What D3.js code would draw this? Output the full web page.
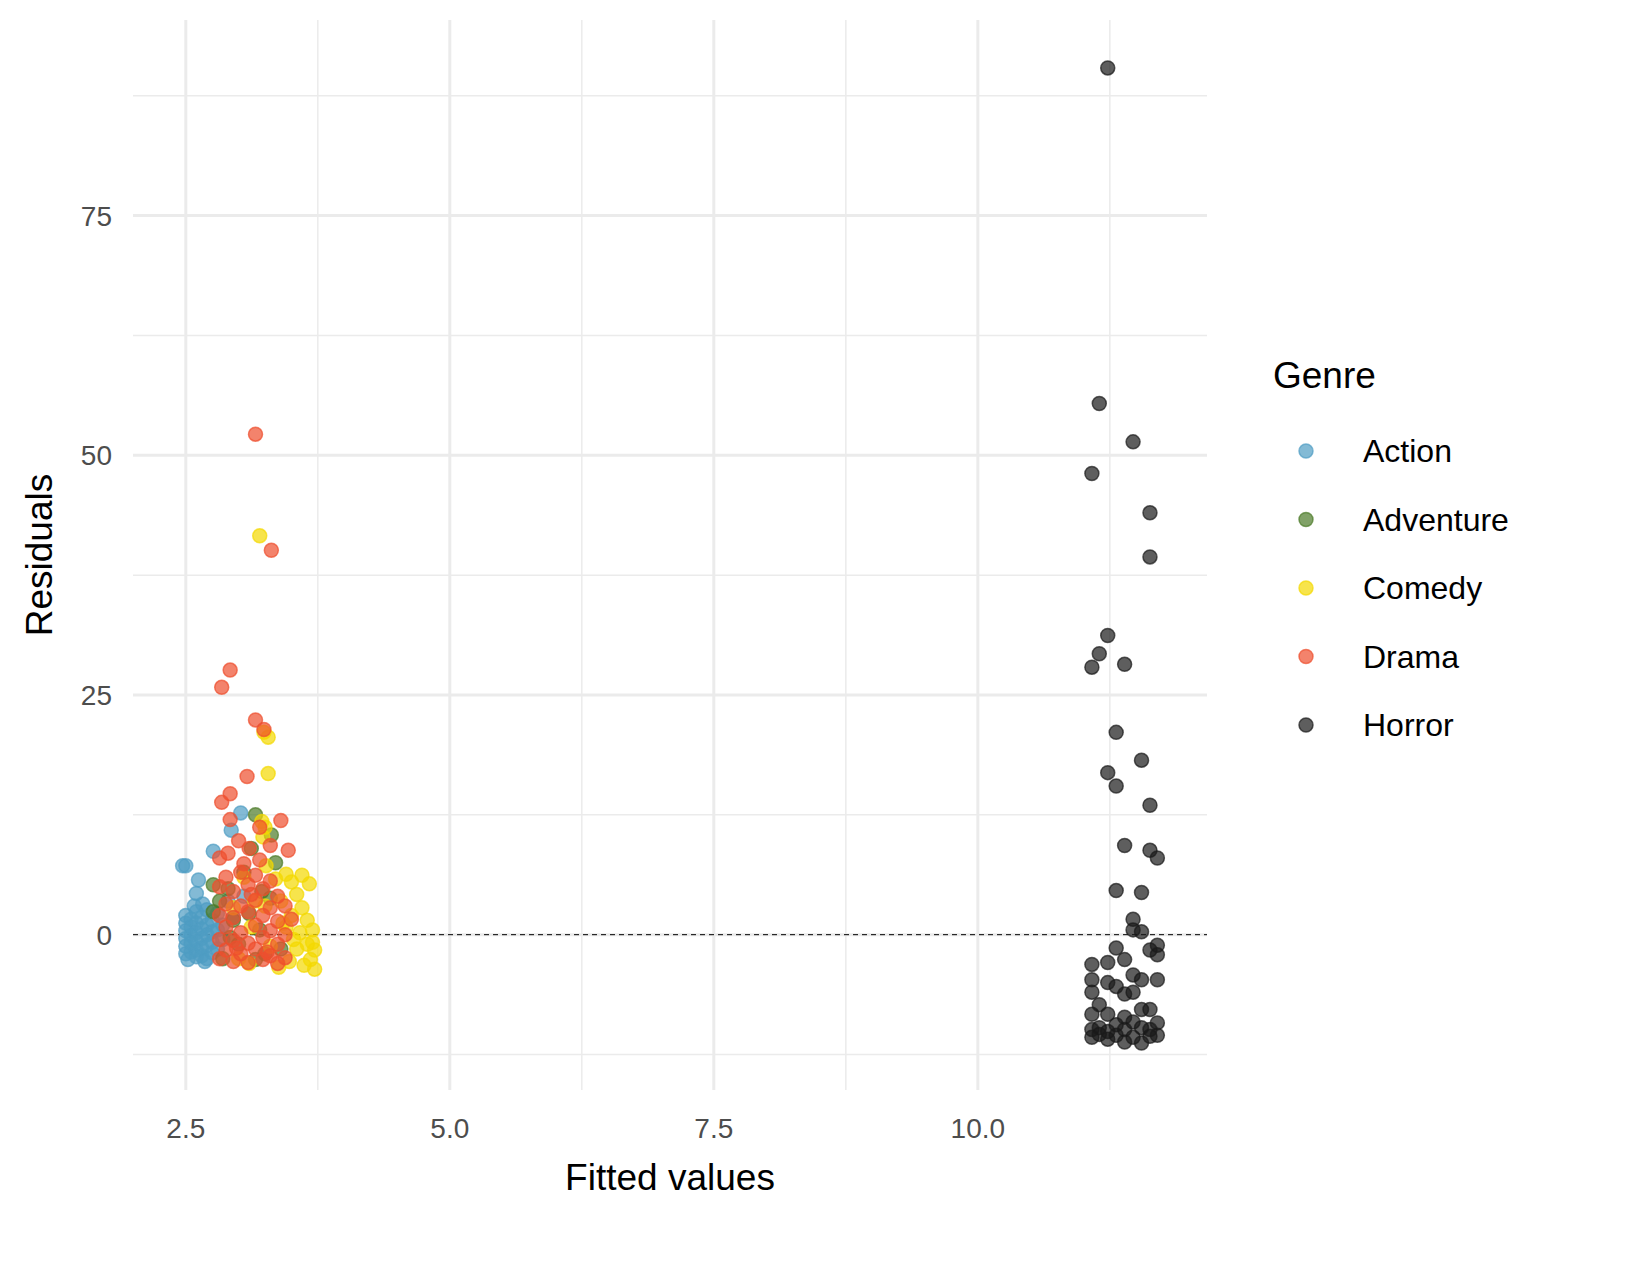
<!DOCTYPE html>
<html>
<head>
<script src="https://d3js.org/d3.v7.min.js"></script>
<style>body{margin:0;background:#fff;font-family:"Liberation Sans",Arial,sans-serif;}</style>
</head>
<body>
<script>
// data: [fitted, residual]
var genres = ["Action", "Adventure", "Comedy", "Drama", "Horror"];
var colors = ["#4f9cc3", "#4b7a28", "#f3d800", "#ee4f2e", "#1a1a1a"];
var xTicks = [2.5, 5.0, 7.5, 10.0];
var yTicks = [0, 25, 50, 75];

var action = [[2.47,7.2],[2.5,7.2],[2.62,5.7],[2.76,8.7],[2.93,10.9],[3.02,12.7],[2.6,4.3],[2.66,3.2],[2.5,2.0],[2.5,1.2],[2.5,0.4],[2.5,-0.4],[2.5,-1.2],[2.5,-2.0],[2.55,1.6],[2.55,0.8],[2.55,-0.1],[2.55,-0.9],[2.55,-1.8],[2.6,2.4],[2.6,1.2],[2.6,0.2],[2.6,-0.7],[2.6,-1.6],[2.6,-2.3],[2.65,1.8],[2.65,0.6],[2.65,-0.4],[2.65,-1.4],[2.65,-2.2],[2.7,2.6],[2.7,1.0],[2.7,0.0],[2.7,-1.1],[2.7,-2.5],[2.75,1.5],[2.75,0.3],[2.75,-0.8],[2.75,-1.9],[2.8,2.2],[2.8,0.5],[2.8,-1.5],[2.85,1.0],[2.85,-0.5],[2.9,3.5],[2.95,1.8],[3.05,4.0],[2.58,3.0],[2.52,-2.6],[2.68,-2.8]];
var adventure = [[3.16,12.5],[3.31,10.4],[2.76,5.2],[3.16,-2.6],[2.76,2.4],[2.82,3.5],[2.9,4.8],[2.95,1.5],[3.0,-1.0],[3.05,6.5],[3.1,2.2],[3.2,0.5],[3.25,-2.0],[3.3,3.8],[3.35,7.5],[2.85,-2.5],[3.12,9.0],[3.4,-1.5],[2.92,-0.3],[3.22,4.5]];
var comedy = [[3.2,41.6],[3.24,21.1],[3.28,20.6],[3.28,16.8],[3.67,5.3],[3.22,11.8],[3.25,11.2],[3.23,10.2],[3.26,7.2],[3.25,3.0],[3.45,6.3],[3.5,5.5],[3.55,4.2],[3.6,2.8],[3.65,1.5],[3.7,0.5],[3.7,-0.8],[3.72,-1.6],[3.72,-3.6],[3.68,-2.6],[3.62,-3.2],[3.58,0.2],[3.55,-1.5],[3.5,2.0],[3.48,-2.8],[3.45,0.8],[3.4,3.5],[3.38,-3.4],[3.35,5.8],[3.3,-1.2],[3.15,3.5],[3.05,6.0],[3.0,-2.5],[2.95,2.8],[3.1,-3.0],[3.6,6.2],[3.52,-0.5],[3.65,-1.0],[3.42,1.2],[3.12,0.8]];
var drama = [[3.16,52.2],[3.31,40.1],[2.92,27.6],[2.84,25.8],[3.16,22.4],[3.24,21.4],[3.08,16.5],[2.92,14.7],[2.84,13.8],[3.40,11.9],[2.92,12.0],[3.47,8.8],[3.20,11.2],[3.0,9.8],[3.1,9.0],[2.82,8.0],[2.9,8.5],[3.3,9.3],[3.05,7.4],[2.82,5.0],[2.82,2.0],[2.82,-0.5],[2.82,-2.5],[2.88,6.0],[2.88,3.2],[2.88,0.8],[2.88,-1.6],[2.95,4.5],[2.95,1.8],[2.95,-0.6],[2.95,-2.8],[3.02,6.5],[3.02,3.0],[3.02,0.2],[3.02,-2.0],[3.09,5.2],[3.09,2.4],[3.09,-0.9],[3.09,-2.9],[3.16,6.2],[3.16,3.6],[3.16,1.0],[3.16,-1.5],[3.23,4.8],[3.23,2.0],[3.23,-0.3],[3.23,-2.6],[3.30,5.6],[3.30,2.8],[3.30,0.4],[3.30,-2.2],[3.37,4.0],[3.37,1.4],[3.37,-1.0],[3.37,-3.0],[3.44,3.0],[3.44,0.0],[3.44,-2.4],[3.5,1.6],[3.12,4.2],[2.98,-1.4],[3.27,-1.8],[3.2,7.8]];
var horror = [[11.23,90.4],[11.15,55.4],[11.47,51.4],[11.08,48.1],[11.63,44.0],[11.63,39.4],[11.23,31.2],[11.15,29.3],[11.08,27.9],[11.39,28.2],[11.31,21.1],[11.55,18.2],[11.23,16.9],[11.31,15.5],[11.63,13.5],[11.39,9.3],[11.63,8.8],[11.70,8.0],[11.31,4.6],[11.55,4.4],[11.47,1.6],[11.47,0.5],[11.55,0.3],[11.31,-1.4],[11.70,-1.1],[11.63,-1.6],[11.70,-2.1],[11.08,-3.1],[11.23,-2.9],[11.39,-2.6],[11.47,-4.2],[11.55,-4.7],[11.70,-4.7],[11.08,-4.7],[11.23,-5.0],[11.31,-5.4],[11.39,-6.2],[11.47,-6.0],[11.08,-6.0],[11.15,-7.3],[11.55,-7.8],[11.63,-7.8],[11.08,-8.3],[11.23,-8.3],[11.39,-8.6],[11.70,-9.2],[11.47,-9.1],[11.08,-9.9],[11.15,-9.7],[11.31,-9.4],[11.55,-9.7],[11.63,-9.9],[11.70,-10.5],[11.15,-10.4],[11.23,-10.9],[11.39,-11.2],[11.55,-11.3],[11.08,-10.7],[11.31,-10.5],[11.47,-10.7],[11.63,-10.6],[11.23,-10.1],[11.39,-9.9]];
var series = [action, adventure, comedy, drama, horror];

var svg = d3.select("body").append("svg").attr("width", 1650).attr("height", 1288);
var pLeft = 133, pRight = 1207, pTop = 20, pBottom = 1090;

var x = d3.scaleLinear().domain([2.0, 12.17]).range([pLeft, pRight]);
var y = d3.scaleLinear().domain([-16.2, 95.4]).range([pBottom, pTop]);

var minorX = [3.75, 6.25, 8.75, 11.25], minorY = [-12.5, 12.5, 37.5, 62.5, 87.5];
var grid = svg.append("g").attr("stroke", "#ebebeb");
grid.selectAll(".mx").data(minorX).enter().append("line")
  .attr("x1", x).attr("x2", x).attr("y1", pTop).attr("y2", pBottom).attr("stroke-width", 1.5);
grid.selectAll(".my").data(minorY).enter().append("line")
  .attr("y1", y).attr("y2", y).attr("x1", pLeft).attr("x2", pRight).attr("stroke-width", 1.5);
grid.selectAll(".Mx").data(xTicks).enter().append("line")
  .attr("x1", x).attr("x2", x).attr("y1", pTop).attr("y2", pBottom).attr("stroke-width", 3);
grid.selectAll(".My").data(yTicks).enter().append("line")
  .attr("y1", y).attr("y2", y).attr("x1", pLeft).attr("x2", pRight).attr("stroke-width", 3);

svg.append("line").attr("x1", pLeft).attr("x2", pRight).attr("y1", y(0)).attr("y2", y(0))
  .attr("stroke", "#000").attr("stroke-width", 1).attr("stroke-dasharray", "5,4");

series.forEach(function(s, i) {
  svg.append("g").selectAll("circle").data(s).enter().append("circle")
    .attr("cx", function(d) { return x(d[0]); })
    .attr("cy", function(d) { return y(d[1]); })
    .attr("r", 7)
    .attr("fill", colors[i]).attr("fill-opacity", 0.7)
    .attr("stroke", colors[i]).attr("stroke-opacity", 0.7).attr("stroke-width", 1.5);
});

svg.append("g").selectAll("text").data(xTicks).enter().append("text")
  .attr("x", x).attr("y", 1138).attr("text-anchor", "middle")
  .attr("font-size", 28).attr("fill", "#4d4d4d").text(function(d) { return d.toFixed(1); });
svg.append("g").selectAll("text").data(yTicks).enter().append("text")
  .attr("x", 112).attr("y", function(d) { return y(d) + 10; }).attr("text-anchor", "end")
  .attr("font-size", 28).attr("fill", "#4d4d4d").text(function(d) { return d; });

svg.append("text").attr("x", (pLeft + pRight) / 2).attr("y", 1190).attr("text-anchor", "middle")
  .attr("font-size", 37).text("Fitted values");
svg.append("text").attr("transform", "translate(52," + (pTop + pBottom) / 2 + ") rotate(-90)")
  .attr("text-anchor", "middle").attr("font-size", 37).text("Residuals");

svg.append("text").attr("x", 1273).attr("y", 388).attr("font-size", 37).text("Genre");
var lg = svg.append("g").selectAll("g").data(genres).enter().append("g")
  .attr("transform", function(d, i) { return "translate(0," + (451 + i * 68.5) + ")"; });
lg.append("circle").attr("cx", 1306).attr("r", 7)
  .attr("fill", function(d, i) { return colors[i]; }).attr("fill-opacity", 0.7)
  .attr("stroke", function(d, i) { return colors[i]; }).attr("stroke-opacity", 0.7).attr("stroke-width", 1.5);
lg.append("text").attr("x", 1363).attr("y", 11).attr("font-size", 32).text(function(d) { return d; });
</script>
</body>
</html>
